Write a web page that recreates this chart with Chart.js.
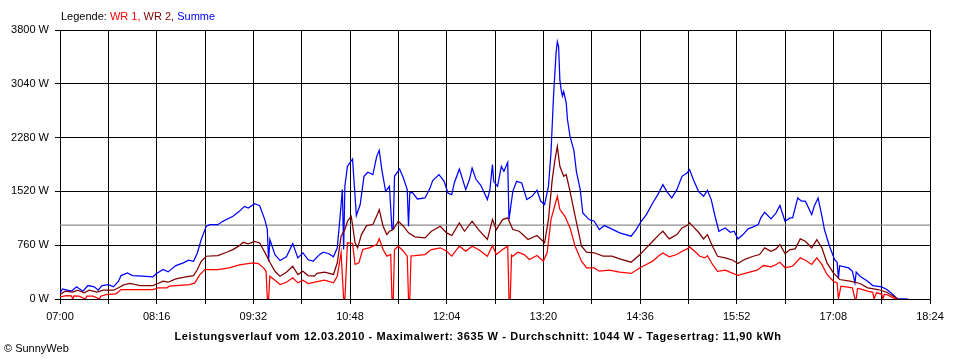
<!DOCTYPE html>
<html>
<head>
<meta charset="utf-8">
<script src="https://cdn.jsdelivr.net/npm/chart.js@4/dist/chart.umd.min.js"></script>
<style>
  body { margin: 0; background: #fff; }
  #wrap { position: relative; width: 960px; height: 360px; font-family: "Liberation Sans", Arial, sans-serif; }
  #legend { position: absolute; left: 61px; top: 9px; font-size: 11px; line-height: 14px; white-space: nowrap; }
  #title { position: absolute; left: 0; width: 956px; top: 329px; text-align: center; font-size: 11px; font-weight: bold; letter-spacing: 0.6px; line-height: 14px; white-space: nowrap; }
  #copy { position: absolute; left: 4px; top: 341px; font-size: 11px; line-height: 14px; }
</style>
</head>
<body>
<div id="wrap">
  <canvas id="myChart" width="960" height="360"></canvas>
  <div id="legend">Legende: <span style="color:#ff0000">WR 1,</span> <span style="color:#800000">WR 2,</span> <span style="color:#0000ff">Summe</span></div>
  <div id="title">Leistungsverlauf vom 12.03.2010 - Maximalwert: 3635 W - Durchschnitt: 1044 W - Tagesertrag: 11,90 kWh</div>
  <div id="copy">© SunnyWeb</div>
</div>
<script>
// WR 1 (red)
let wr1Times = ["07:00","07:05","07:09","07:10","07:11","07:15","07:20","07:21","07:26","07:31","07:32","07:36","07:44","07:48","07:57","08:13","08:17","08:24","08:26","08:42","08:46","08:50","08:54","09:04","09:13","09:21","09:32","09:36","09:40","09:42","09:43","09:44","09:45","09:50","09:53","09:58","10:03","10:07","10:11","10:15","10:24","10:28","10:35","10:38","10:41","10:43","10:44","10:46","10:50","10:52","10:55","10:58","11:03","11:09","11:11","11:14","11:17","11:20","11:21","11:22","11:23","11:26","11:30","11:33","11:34","11:35","11:36","11:39","11:47","11:52","11:59","12:04","12:08","12:14","12:19","12:24","12:29","12:36","12:40","12:43","12:48","12:52","12:53","12:54","12:55","12:56","13:00","13:05","13:09","13:15","13:20","13:23","13:26","13:31","13:33","13:37","13:41","13:45","13:50","13:54","14:00","14:04","14:12","14:20","14:29","14:36","14:41","14:46","14:51","14:54","14:59","15:05","15:09","15:13","15:15","15:19","15:23","15:27","15:29","15:33","15:37","15:43","15:49","15:53","16:00","16:08","16:13","16:19","16:23","16:26","16:30","16:36","16:42","16:46","16:51","16:55","16:59","17:03","17:08","17:11","17:12","17:14","17:23","17:25","17:26","17:27","17:29","17:35","17:39","17:40","17:42","17:46","17:47","17:48","17:50","17:55","17:58"];
let wr1Values = [31,49,45,0,45,40,0,40,40,0,40,63,73,134,134,134,158,158,181,204,228,345,416,416,440,482,510,500,440,392,0,0,322,251,204,237,299,228,265,219,251,266,228,322,653,0,0,794,784,488,512,699,723,770,851,699,605,628,0,0,700,746,675,605,0,0,610,614,628,699,723,675,605,746,675,746,699,605,755,628,699,746,0,0,620,605,662,628,558,614,535,653,1122,1451,1263,1169,1004,746,535,440,440,393,407,380,361,441,488,535,613,651,596,628,675,708,736,675,604,581,613,488,392,407,361,333,369,407,473,454,488,520,441,463,581,548,488,581,488,346,251,228,0,181,158,0,0,150,144,110,95,0,87,70,0,65,63,16,0];

// WR 2 (dark red)
let wr2Times = ["07:00","07:04","07:10","07:14","07:19","07:23","07:29","07:34","07:42","07:46","07:50","07:55","08:03","08:13","08:17","08:21","08:25","08:31","08:39","08:45","08:48","08:51","08:55","09:04","09:11","09:16","09:21","09:24","09:28","09:33","09:37","09:42","09:45","09:49","09:53","09:58","10:03","10:07","10:11","10:15","10:20","10:22","10:28","10:35","10:38","10:41","10:44","10:46","10:49","10:52","10:54","10:57","11:01","11:06","11:10","11:11","11:14","11:17","11:19","11:22","11:26","11:30","11:34","11:39","11:47","11:52","11:59","12:04","12:08","12:14","12:18","12:24","12:29","12:36","12:40","12:43","12:48","12:52","12:56","13:01","13:08","13:15","13:21","13:24","13:27","13:29","13:31","13:33","13:36","13:38","13:41","13:45","13:50","13:54","14:00","14:07","14:14","14:20","14:29","14:36","14:41","14:46","14:51","14:54","14:59","15:05","15:09","15:13","15:15","15:18","15:22","15:26","15:29","15:33","15:37","15:43","15:49","15:53","15:58","16:05","16:10","16:14","16:19","16:23","16:26","16:30","16:34","16:38","16:42","16:46","16:51","16:55","16:59","17:03","17:08","17:13","17:21","17:29","17:35","17:43","17:50","17:55","17:59"];
let wr2Values = [63,110,96,124,87,124,96,124,124,158,200,219,190,190,219,251,237,285,313,331,416,533,604,613,660,698,754,801,778,815,792,627,519,392,322,378,462,345,392,331,322,361,380,347,512,887,981,1099,1169,794,723,910,1037,1052,1216,1263,1028,910,957,981,1099,1028,934,878,864,957,1028,934,897,1075,957,1099,981,840,1122,981,1122,1146,981,957,840,897,794,1122,1686,1950,2156,1874,1733,1757,1521,1169,746,662,653,605,605,567,520,628,722,816,910,957,849,910,1004,1037,1075,1019,943,849,910,745,604,581,548,501,557,604,628,722,675,708,769,642,698,708,849,816,722,838,722,510,369,275,251,219,158,134,96,40,0];

// Summe (blue)
let sumTimes = ["07:00","07:02","07:09","07:13","07:18","07:22","07:27","07:30","07:33","07:38","07:42","07:46","07:48","07:53","07:57","08:05","08:13","08:16","08:21","08:25","08:31","08:37","08:41","08:45","08:48","08:51","08:55","08:58","09:04","09:08","09:16","09:21","09:25","09:28","09:33","09:37","09:41","09:43","09:44","09:45","09:49","09:53","09:58","10:03","10:07","10:11","10:15","10:19","10:24","10:27","10:31","10:35","10:38","10:40","10:42","10:43","10:44","10:46","10:50","10:51","10:53","10:56","10:59","11:02","11:06","11:09","11:11","11:13","11:16","11:19","11:21","11:22","11:23","11:27","11:30","11:33","11:34","11:35","11:37","11:41","11:47","11:51","11:53","11:58","12:02","12:05","12:08","12:10","12:14","12:19","12:22","12:24","12:27","12:31","12:36","12:38","12:40","12:41","12:44","12:47","12:49","12:52","12:53","12:56","12:59","13:03","13:07","13:11","13:15","13:18","13:21","13:24","13:26","13:28","13:30","13:31","13:32","13:33","13:34","13:35","13:36","13:38","13:39","13:41","13:44","13:46","13:49","13:51","13:56","14:00","14:04","14:08","14:12","14:20","14:29","14:33","14:37","14:41","14:46","14:50","14:54","14:57","15:01","15:05","15:09","15:13","15:15","15:18","15:22","15:26","15:29","15:32","15:35","15:38","15:43","15:47","15:50","15:53","15:57","16:01","16:05","16:09","16:11","16:14","16:19","16:23","16:26","16:30","16:34","16:36","16:40","16:43","16:46","16:51","16:53","16:56","16:59","17:01","17:05","17:09","17:11","17:12","17:13","17:20","17:23","17:25","17:26","17:29","17:35","17:39","17:46","17:50","17:54","17:58","18:07"];
let sumValues = [87,143,110,172,110,190,172,124,190,204,172,251,331,369,331,322,313,360,416,383,472,510,548,533,651,839,1027,1050,1050,1097,1168,1238,1308,1286,1347,1318,1121,980,533,839,627,543,595,782,581,651,557,533,627,661,643,596,723,1122,1545,700,1600,1874,1978,1710,1179,1334,1733,1790,1757,2015,2100,1828,1521,1592,981,1000,1733,1837,1710,1545,1028,1500,1507,1413,1428,1570,1672,1757,1662,1498,1474,1639,1837,1545,1691,1851,1691,1602,1404,1545,1898,1662,1592,1874,1804,1930,1122,1521,1662,1639,1404,1451,1535,1380,1334,1592,2063,2861,3473,3635,3566,3096,2955,2870,2931,2768,2532,2297,2100,1800,1545,1216,1122,1098,981,1037,1004,935,887,981,1098,1192,1357,1474,1615,1521,1428,1545,1733,1780,1827,1686,1521,1451,1535,1404,1169,957,1004,943,957,849,910,991,1019,1052,1146,1226,1132,1217,1321,1098,1146,1146,1428,1381,1381,1192,1310,1428,1169,981,745,556,520,298,470,439,392,228,380,321,251,190,170,134,77,7,0];

// Durchschnitt
let average = 1044;

// axis: minutes after 07:00, 07:00 .. 18:24
let startMinute = 7 * 60;
let endMinute = 18 * 60 + 24;
let yTicks = [0, 760, 1520, 2280, 3040, 3800];

function toMinutes(s) {
  let parts = s.split(":");
  return parseInt(parts[0]) * 60 + parseInt(parts[1]) - startMinute;
}

function points(times, values) {
  return times.map((t, i) => {
    return { x: toMinutes(t), y: values[i] };
  });
}

function hhmm(v) {
  let m = v + startMinute;
  let h = Math.floor(m / 60);
  let mm = m % 60;
  return (h < 10 ? "0" : "") + h + ":" + (mm < 10 ? "0" : "") + mm;
}

let ctx = document.getElementById("myChart").getContext("2d");

let myChart = new Chart(ctx, {
  type: "line",
  data: {
    datasets: [
      { label: "WR 1", data: points(wr1Times, wr1Values), borderColor: "#ff0000" },
      { label: "WR 2", data: points(wr2Times, wr2Values), borderColor: "#800000" },
      { label: "Summe", data: points(sumTimes, sumValues), borderColor: "#0000ff" },
      { label: "Durchschnitt", data: [{ x: 0, y: average }, { x: endMinute - startMinute, y: average }], borderColor: "#8c8c8c" }
    ]
  },
  options: {
    responsive: false,
    animation: false,
    devicePixelRatio: 1,
    layout: { padding: { top: 30, right: 30, left: 0, bottom: 0 } },
    elements: {
      line: { borderWidth: 1.25, tension: 0, fill: false },
      point: { radius: 0, hoverRadius: 0 }
    },
    plugins: {
      legend: { display: false },
      title: { display: false },
      tooltip: { enabled: false }
    },
    events: [],
    scales: {
      x: {
        type: "linear",
        min: 0,
        max: endMinute - startMinute,
        afterFit: scale => { scale.height = 61; },
        border: { color: "#000", width: 1 },
        grid: { color: "#000", lineWidth: 1, tickLength: 5, tickColor: "#000" },
        ticks: {
          stepSize: 38,
          maxTicksLimit: 19,
          autoSkip: false,
          maxRotation: 0,
          padding: 6,
          color: "#000",
          font: { family: "'Liberation Sans', Arial, sans-serif", size: 11 },
          callback: v => (v % 76 === 0 ? hhmm(v) : "")
        }
      },
      y: {
        min: 0,
        max: 3800,
        afterFit: scale => { scale.width = 60; },
        afterBuildTicks: scale => { scale.ticks = yTicks.map(v => ({ value: v })); },
        border: { color: "#000", width: 1 },
        grid: { color: "#000", lineWidth: 1, tickLength: 5, tickColor: "#000" },
        ticks: {
          padding: 6,
          color: "#000",
          font: { family: "'Liberation Sans', Arial, sans-serif", size: 11 },
          callback: v => v + " W"
        }
      }
    }
  }
});
</script>
</body>
</html>
